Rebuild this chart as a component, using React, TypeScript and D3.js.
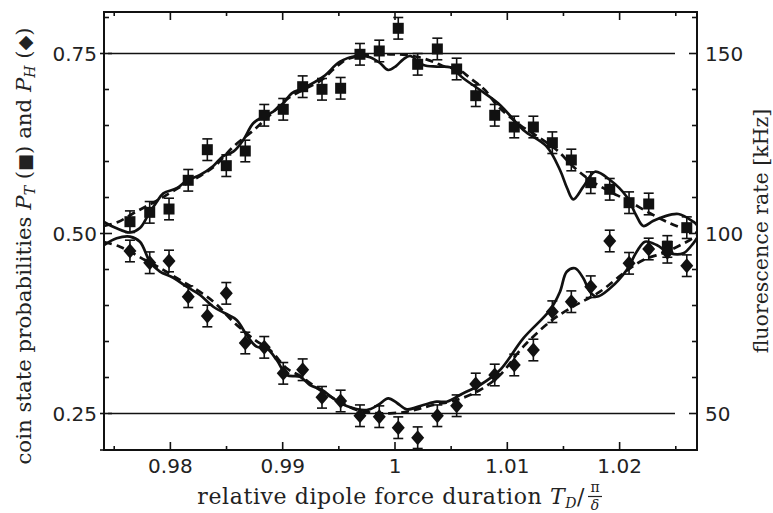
import React from "react";
import * as d3 from "d3";

// relative dipole force duration T_D / (pi/delta)
const durations = [0.9764, 0.97816, 0.97988, 0.98159, 0.98329, 0.98498, 0.98667, 0.98836, 0.99005, 0.99178, 0.9935, 0.99516, 0.99688, 0.9986, 1.00029, 1.00202, 1.00377, 1.00549, 1.00719, 1.00888, 1.01062, 1.01232, 1.01401, 1.0157, 1.01743, 1.01912, 1.02084, 1.02259, 1.02425, 1.02598];
// P_T (squares)
const probT = [0.5164, 0.5294, 0.534, 0.5739, 0.6164, 0.5942, 0.6146, 0.6642, 0.6725, 0.7039, 0.7003, 0.7017, 0.7489, 0.7535, 0.785, 0.735, 0.7563, 0.7285, 0.6914, 0.6642, 0.6479, 0.6479, 0.6261, 0.6021, 0.5706, 0.5614, 0.5428, 0.541, 0.482, 0.5081];
// P_H (diamonds)
const probH = [0.4757, 0.4594, 0.4618, 0.4122, 0.3854, 0.4169, 0.3479, 0.3419, 0.3058, 0.3108, 0.2725, 0.2674, 0.2469, 0.2456, 0.2303, 0.2164, 0.2469, 0.2608, 0.291, 0.3035, 0.3174, 0.3382, 0.3914, 0.4053, 0.4261, 0.4896, 0.4586, 0.4785, 0.474, 0.4553];
const errorBar = 0.015;

// full model (solid) and simplified model (dashed)
const solidT: [number, number][] = [[0.97409, 0.516], [0.97516, 0.5076], [0.9764, 0.5014], [0.97729, 0.5076], [0.97803, 0.5257], [0.97872, 0.5424], [0.97937, 0.5558], [0.98056, 0.5628], [0.98145, 0.5733], [0.98264, 0.5813], [0.98382, 0.5938], [0.98471, 0.6076], [0.9856, 0.6136], [0.98649, 0.6299], [0.98738, 0.6531], [0.98827, 0.6622], [0.98916, 0.6692], [0.99005, 0.6808], [0.9908, 0.6947], [0.99183, 0.7017], [0.99362, 0.7178], [0.9951, 0.7386], [0.99659, 0.7465], [0.99777, 0.7447], [0.99866, 0.7368], [0.9994, 0.7271], [1.00009, 0.7326], [1.00074, 0.7419], [1.00134, 0.7465], [1.00252, 0.734], [1.00371, 0.7317], [1.0049, 0.7308], [1.00608, 0.7156], [1.00757, 0.6993], [1.00935, 0.6785], [1.01142, 0.6438], [1.01351, 0.6206], [1.01469, 0.5882], [1.01532, 0.5632], [1.01588, 0.5475], [1.01677, 0.565], [1.01781, 0.5858], [1.01915, 0.5743], [1.02063, 0.5511], [1.02146, 0.5257], [1.02211, 0.5104], [1.02297, 0.5174], [1.02389, 0.5233], [1.02523, 0.5271], [1.02656, 0.5164], [1.02689, 0.5118]];
const dashedT: [number, number][] = [[0.97409, 0.5104], [0.97533, 0.516], [0.97667, 0.5278], [0.97774, 0.5368], [0.97907, 0.5479], [0.98085, 0.5646], [0.98264, 0.5799], [0.98397, 0.5938], [0.98557, 0.6201], [0.98753, 0.6451], [0.98887, 0.6646], [0.99047, 0.6878], [0.99199, 0.7007], [0.99347, 0.7132], [0.99466, 0.7299], [0.9957, 0.7419], [0.99688, 0.7465], [0.99822, 0.7486], [0.99955, 0.7489], [1.00071, 0.7483], [1.00205, 0.7451], [1.00341, 0.7386], [1.00445, 0.7317], [1.00549, 0.7294], [1.00668, 0.716], [1.00801, 0.6993], [1.00906, 0.6785], [1.01113, 0.6507], [1.01291, 0.6326], [1.0144, 0.616], [1.01588, 0.5928], [1.01736, 0.5743], [1.01915, 0.5581], [1.02063, 0.5465], [1.02271, 0.5281], [1.02449, 0.5142], [1.02627, 0.5035], [1.02689, 0.5007]];
const solidH: [number, number][] = [[0.97409, 0.484], [0.97522, 0.4933], [0.9764, 0.4956], [0.97729, 0.4886], [0.97818, 0.4608], [0.97907, 0.4469], [0.98026, 0.4386], [0.98145, 0.4261], [0.98264, 0.4146], [0.98382, 0.3983], [0.98486, 0.3892], [0.9859, 0.3799], [0.98679, 0.359], [0.98768, 0.3428], [0.98857, 0.3406], [0.98947, 0.3243], [0.99036, 0.3035], [0.99154, 0.3011], [0.99243, 0.2896], [0.9935, 0.2826], [0.99451, 0.2711], [0.9957, 0.2604], [0.99748, 0.2549], [0.99849, 0.2618], [0.9994, 0.2711], [1.00018, 0.2646], [1.00104, 0.2558], [1.00252, 0.2618], [1.00371, 0.2664], [1.0046, 0.2664], [1.00608, 0.2781], [1.00757, 0.2896], [1.00935, 0.3104], [1.01142, 0.3544], [1.0138, 0.3938], [1.01469, 0.4192], [1.01529, 0.4469], [1.01603, 0.4517], [1.01677, 0.4378], [1.01736, 0.4192], [1.01796, 0.4122], [1.01915, 0.4239], [1.02063, 0.4493], [1.02152, 0.4747], [1.02226, 0.4886], [1.0233, 0.484], [1.02449, 0.4725], [1.02567, 0.4725], [1.02656, 0.4864], [1.02689, 0.4938]];
const dashedH: [number, number][] = [[0.97409, 0.4882], [0.97551, 0.4817], [0.97774, 0.4632], [0.97907, 0.4521], [0.98085, 0.4354], [0.98264, 0.4188], [0.98397, 0.4035], [0.9856, 0.3775], [0.98753, 0.3521], [0.98887, 0.3382], [0.99036, 0.3128], [0.99154, 0.3021], [0.99332, 0.2826], [0.9951, 0.266], [0.99659, 0.2549], [0.99822, 0.2507], [0.99955, 0.2503], [1.00089, 0.2521], [1.00193, 0.2558], [1.00341, 0.2618], [1.00549, 0.2688], [1.00757, 0.2826], [1.00935, 0.3035], [1.01142, 0.3428], [1.0138, 0.3775], [1.01558, 0.3961], [1.01825, 0.4192], [1.02033, 0.4447], [1.02211, 0.4632], [1.02419, 0.4747], [1.02627, 0.491], [1.02689, 0.4965]];

const referenceLevels = [0.25, 0.75];
const referenceSpan = [0.97444, 1.02493];
const xMajorTicks = [0.98, 0.99, 1.0, 1.01, 1.02];
const xTickLabels = ["0.98", "0.99", "1", "1.01", "1.02"];
const xMinorTicks = [0.975, 0.985, 0.995, 1.005, 1.015, 1.025];
const yMajorTicks = [0.25, 0.5, 0.75];
const yTickLabels = ["0.25", "0.50", "0.75"];
const yMinorTicks = [0.3, 0.35, 0.4, 0.45, 0.55, 0.6, 0.65, 0.7, 0.8];
const rateTicks = [50, 100, 150];
const rateTickLabels = ["50", "100", "150"];

const W = 773;
const H = 513;
const L = 104, R = 697, T = 12, B = 450;

export default function App() {
  const x = d3.scaleLinear().domain([0.97409, 1.02689]).range([L, R]);
  const y = d3.scaleLinear().domain([0.19931, 0.80764]).range([B, T]);
  const yRate = d3.scaleLinear().domain([0.19931 * 200, 0.80764 * 200]).range([B, T]);

  const line = d3
    .line<[number, number]>()
    .x((d) => x(d[0]))
    .y((d) => y(d[1]))
    .curve(d3.curveCatmullRom.alpha(0.5));

  const sans = "'DejaVu Sans', Verdana, sans-serif";
  const serif = "'DejaVu Serif', serif";

  const majorLen = 8;
  const minorLen = 5;

  return (
    <svg
      width={W}
      height={H}
      viewBox={`0 0 ${W} ${H}`}
      style={{ position: "absolute", left: 0, top: 0, background: "#fff" }}
    >
      <rect x={0} y={0} width={W} height={H} fill="#fff" />

      {/* reference lines */}
      {referenceLevels.map((v) => (
        <line
          key={"ref" + v}
          x1={x(referenceSpan[0])}
          x2={x(referenceSpan[1])}
          y1={y(v)}
          y2={y(v)}
          stroke="#111"
          strokeWidth={1.6}
        />
      ))}

      {/* model curves */}
      <g fill="none" stroke="#111" strokeWidth={2.7} strokeLinejoin="round">
        <path d={line(dashedT) || ""} strokeDasharray="8,5" />
        <path d={line(dashedH) || ""} strokeDasharray="8,5" />
        <path d={line(solidT) || ""} />
        <path d={line(solidH) || ""} />
      </g>

      {/* error bars */}
      <g stroke="#111" strokeWidth={1.6}>
        {durations.map((d, i) => (
          <g key={"eT" + i}>
            <line x1={x(d)} x2={x(d)} y1={y(probT[i] - errorBar)} y2={y(probT[i] + errorBar)} />
            <line x1={x(d) - 5} x2={x(d) + 5} y1={y(probT[i] - errorBar)} y2={y(probT[i] - errorBar)} />
            <line x1={x(d) - 5} x2={x(d) + 5} y1={y(probT[i] + errorBar)} y2={y(probT[i] + errorBar)} />
          </g>
        ))}
        {durations.map((d, i) => (
          <g key={"eH" + i}>
            <line x1={x(d)} x2={x(d)} y1={y(probH[i] - errorBar)} y2={y(probH[i] + errorBar)} />
            <line x1={x(d) - 5} x2={x(d) + 5} y1={y(probH[i] - errorBar)} y2={y(probH[i] - errorBar)} />
            <line x1={x(d) - 5} x2={x(d) + 5} y1={y(probH[i] + errorBar)} y2={y(probH[i] + errorBar)} />
          </g>
        ))}
      </g>

      {/* markers */}
      <g fill="#111">
        {durations.map((d, i) => (
          <rect key={"sq" + i} x={x(d) - 5.5} y={y(probT[i]) - 5.5} width={11} height={11} />
        ))}
        {durations.map((d, i) => {
          const cx = x(d);
          const cy = y(probH[i]);
          return (
            <polygon
              key={"dm" + i}
              points={`${cx},${cy - 7.5} ${cx + 6.5},${cy} ${cx},${cy + 7.5} ${cx - 6.5},${cy}`}
            />
          );
        })}
      </g>

      {/* frame */}
      <rect x={L} y={T} width={R - L} height={B - T} fill="none" stroke="#111" strokeWidth={2} />

      {/* ticks */}
      <g stroke="#111" strokeWidth={1.6}>
        {xMajorTicks.map((t) => (
          <g key={"xM" + t}>
            <line x1={x(t)} x2={x(t)} y1={B} y2={B - majorLen} />
            <line x1={x(t)} x2={x(t)} y1={T} y2={T + majorLen} />
          </g>
        ))}
        {xMinorTicks.map((t) => (
          <g key={"xm" + t}>
            <line x1={x(t)} x2={x(t)} y1={B} y2={B - 4} />
            <line x1={x(t)} x2={x(t)} y1={T} y2={T + 4} />
          </g>
        ))}
        {yMajorTicks.map((t) => (
          <line key={"yM" + t} x1={L - 4} x2={L + majorLen} y1={y(t)} y2={y(t)} />
        ))}
        {yMinorTicks.map((t) => (
          <g key={"ym" + t}>
            <line x1={L} x2={L + minorLen} y1={y(t)} y2={y(t)} />
            <line x1={R} x2={R - minorLen} y1={y(t)} y2={y(t)} />
          </g>
        ))}
        {rateTicks.map((t) => (
          <line key={"rM" + t} x1={R} x2={R - majorLen} y1={yRate(t)} y2={yRate(t)} />
        ))}
        <line x1={L - 4} x2={L} y1={B} y2={B} />
      </g>

      {/* tick labels */}
      <g fontFamily={sans} fontSize={20} fill="#222">
        {xMajorTicks.map((t, i) => (
          <text key={"xl" + t} x={x(t)} y={473} textAnchor="middle">
            {xTickLabels[i]}
          </text>
        ))}
        {yMajorTicks.map((t, i) => (
          <text key={"yl" + t} x={97} y={y(t)} dy="0.36em" textAnchor="end">
            {yTickLabels[i]}
          </text>
        ))}
        {rateTicks.map((t, i) => (
          <text key={"rl" + t} x={705} y={yRate(t)} dy="0.36em" textAnchor="start">
            {rateTickLabels[i]}
          </text>
        ))}
      </g>

      {/* x title */}
      <g fontFamily={serif} fill="#222">
        <text x={585} y={504} fontSize={22} letterSpacing={0.6} textAnchor="end">
          relative dipole force duration{" "}
          <tspan fontStyle="italic">T</tspan>
          <tspan fontSize={14} dy={4} fontStyle="italic">D</tspan>
          <tspan dy={-4}>/</tspan>
        </text>
        <text x={595} y={492} fontSize={14} textAnchor="middle">π</text>
        <line x1={588} x2={602} y1={496.5} y2={496.5} stroke="#222" strokeWidth={1.2} />
        <text x={595} y={510} fontSize={14} fontStyle="italic" textAnchor="middle">δ</text>
      </g>

      {/* left & right titles */}
      <g fontFamily={serif} fill="#222">
        <text
          transform={`translate(31,${(22 + 470) / 2}) rotate(-90)`}
          textAnchor="middle"
          fontSize={21.3}
        >
          coin state probabilities{" "}
          <tspan fontStyle="italic">P</tspan>
          <tspan fontSize={14} dy={4} fontStyle="italic">T</tspan>
          <tspan dy={-4}> (</tspan>
          <tspan fontFamily={sans} fontSize={18}>■</tspan>
          <tspan>) and </tspan>
          <tspan fontStyle="italic">P</tspan>
          <tspan fontSize={14} dy={4} fontStyle="italic">H</tspan>
          <tspan dy={-4}> (</tspan>
          <tspan fontFamily={sans} fontSize={19}>◆</tspan>
          <tspan>)</tspan>
        </text>
        <text
          transform={`translate(768,231) rotate(-90)`}
          textAnchor="middle"
          fontSize={20.5}
        >
          fluorescence rate [kHz]
        </text>
      </g>
    </svg>
  );
}
